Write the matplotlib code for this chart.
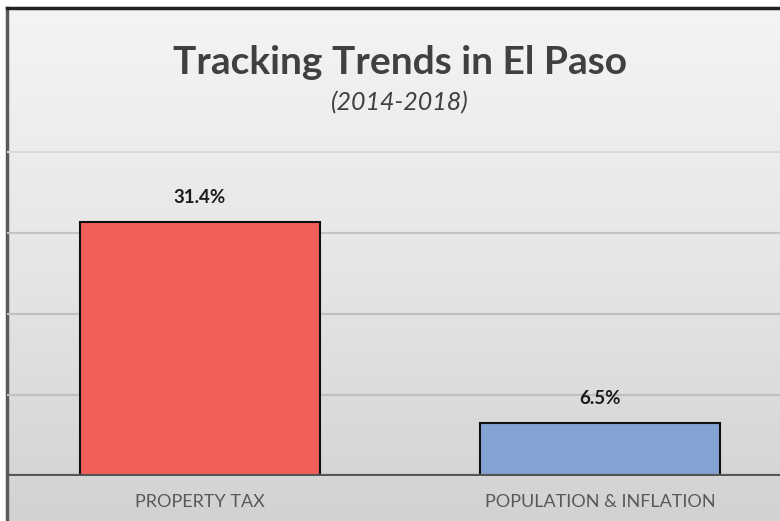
import numpy as np
import matplotlib.pyplot as plt

categories = ['PROPERTY TAX', 'POPULATION & INFLATION']
values = [31.4, 6.5]
labels = ['31.4%', '6.5%']
colors = ['#f25f58', '#83a3d3']

W, H = 780, 521
fig = plt.figure(figsize=(W / 100, H / 100), dpi=100)
fig.patch.set_facecolor('white')

# panel background with a soft vertical gradient
bg = fig.add_axes([7 / W, 0, 1 - 7 / W, (H - 8) / H])
grad = np.linspace(0, 1, 256).reshape(-1, 1)
bg.imshow(grad, aspect='auto', cmap=plt.matplotlib.colors.LinearSegmentedColormap.from_list(
    'bg', ['#f4f4f4', '#e6e6e6', '#d2d2d2']), extent=[0, 1, 0, 1], origin='upper')
bg.set_xlim(0, 1)
bg.set_ylim(0, 1)
bg.set_xticks([])
bg.set_yticks([])
for s in ['right', 'bottom']:
    bg.spines[s].set_visible(False)
bg.spines['left'].set_color('#5a5a5a')
bg.spines['left'].set_linewidth(2.5)
bg.spines['top'].set_color('#222222')
bg.spines['top'].set_linewidth(2.5)

ax = fig.add_axes([7 / W, (H - 476) / H, 1 - 7 / W, (476 - 8) / H])
ax.patch.set_alpha(0)
x = np.arange(len(categories))
bars = ax.bar(x, values, width=0.6, color=colors, edgecolor='#111111', linewidth=1.5, zorder=3)
ax.set_xlim(-193 / 400, 1 + 180 / 400)
ax.set_ylim(0, 468 / 8.09)

grid_cols = {10: '#c0c0c0', 20: '#c0c0c0', 30: '#c4c4c4', 40: '#dadada'}
for gy, gc in grid_cols.items():
    ax.axhline(gy, color=gc, lw=1.5, zorder=1)
ax.axhline(0, color='#555555', lw=3, zorder=4)

for b, lab in zip(bars, labels):
    ax.text(b.get_x() + b.get_width() / 2, b.get_height() + 2.0, lab,
            ha='center', va='bottom', fontsize=13.5, fontweight='bold',
            color='#1a1a1a', family='Lato')

ax.set_xticks(x)
ax.set_xticklabels(categories, fontsize=13, color='#595959', family='Lato')
ax.tick_params(axis='x', length=0, pad=13)
ax.set_yticks([])
for s in ax.spines.values():
    s.set_visible(False)

fig.text(400 / W, 1 - 62 / H, 'Tracking Trends in El Paso', ha='center', va='center',
         fontsize=28, fontweight='bold', color='#404040', family='Lato')
fig.text(400 / W, 1 - 103 / H, '(2014-2018)', ha='center', va='center',
         fontsize=18, style='italic', color='#404040', family='Lato')

fig.savefig('out.png', dpi=100)
